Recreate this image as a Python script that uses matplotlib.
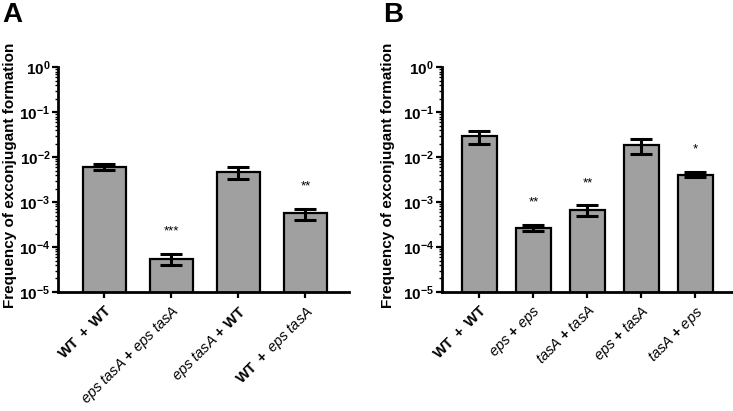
import numpy as np
import matplotlib.pyplot as plt
from matplotlib.ticker import LogLocator, FixedLocator, FuncFormatter

plt.rcParams['font.family'] = ['Liberation Sans', 'DejaVu Sans']
plt.rcParams['mathtext.fontset'] = 'custom'
plt.rcParams['mathtext.rm'] = 'Liberation Sans'
plt.rcParams['mathtext.it'] = 'Liberation Sans:italic'
plt.rcParams['mathtext.bf'] = 'Liberation Sans:bold'

# panel A
labels_a = [r'$\mathbf{WT\ +\ WT}$',
            r'$\mathit{eps\ tasA}\ \mathbf{+}\ \mathit{eps\ tasA}$',
            r'$\mathit{eps\ tasA}\ \mathbf{+\ WT}$',
            r'$\mathbf{WT\ +}\ \mathit{eps\ tasA}$']
means_a = [6.0e-3, 5.5e-5, 4.6e-3, 5.6e-4]
errs_a = [0.9e-3, 1.5e-5, 1.3e-3, 1.6e-4]
stars_a = ['', '***', '', '**']

# panel B
labels_b = [r'$\mathbf{WT\ +\ WT}$',
            r'$\mathit{eps}\ \mathbf{+}\ \mathit{eps}$',
            r'$\mathit{tasA}\ \mathbf{+}\ \mathit{tasA}$',
            r'$\mathit{eps}\ \mathbf{+}\ \mathit{tasA}$',
            r'$\mathit{tasA}\ \mathbf{+}\ \mathit{eps}$']
means_b = [2.9e-2, 2.7e-4, 6.7e-4, 1.85e-2, 4.1e-3]
errs_b = [0.95e-2, 0.45e-4, 1.7e-4, 0.65e-2, 0.55e-3]
stars_b = ['', '**', '**', '', '*']


def sci(v, pos):
    e = int(round(np.log10(v)))
    return r'$\mathbf{10^{%d}}$' % e


def draw(ax, labels, means, errs, stars, xlim, labelx):
    x = np.arange(len(means))
    ax.bar(x, means, width=0.64, color='#a0a0a0', edgecolor='black',
           linewidth=1.6, zorder=2)
    ax.errorbar(x, means, yerr=errs, fmt='none', ecolor='black',
                elinewidth=2.2, capsize=8, capthick=2.2, zorder=3)
    for xi, m, e, s in zip(x, means, errs, stars):
        if s:
            ax.text(xi, (m + e) * 2.3, s, ha='center', va='bottom',
                    fontsize=9.5)
    ax.set_yscale('log')
    ax.set_ylim(1e-5, 1)
    ax.set_xlim(*xlim)
    ax.yaxis.set_major_locator(LogLocator(base=10, numticks=10))
    ax.yaxis.set_minor_locator(LogLocator(base=10, subs=np.arange(2, 10), numticks=20))
    ax.yaxis.set_major_formatter(FuncFormatter(sci))
    ax.yaxis.set_minor_formatter(FuncFormatter(lambda v, p: ''))
    ax.xaxis.set_major_locator(FixedLocator(x))
    ax.set_xticklabels(labels, rotation=45, ha='right', rotation_mode='anchor',
                       fontsize=10.5)
    ax.tick_params(axis='y', which='major', length=4, width=1.6, labelsize=11,
                   pad=1.5)
    ax.tick_params(axis='y', which='minor', length=2.5, width=1.0)
    ax.tick_params(axis='x', length=4, width=1.6, pad=4)
    for s in ['top', 'right']:
        ax.spines[s].set_visible(False)
    for s in ['left', 'bottom']:
        ax.spines[s].set_linewidth(2)
    ax.set_ylabel('Frequency of exconjugant formation', fontsize=11,
                  fontweight='bold')
    ax.yaxis.set_label_coords(labelx, 0.52)


fig = plt.figure(figsize=(7.33, 4.11), dpi=100)
ax1 = fig.add_axes([0.0791, 0.2895, 0.397, 0.547])
ax2 = fig.add_axes([0.6026, 0.2895, 0.396, 0.547])

draw(ax1, labels_a, means_a, errs_a, stars_a, (-0.69, 3.65), -0.14)
draw(ax2, labels_b, means_b, errs_b, stars_b, (-0.70, 4.68), -0.16)

fig.text(0.003, 0.995, 'A', fontsize=20, fontweight='bold', va='top')
fig.text(0.522, 0.995, 'B', fontsize=20, fontweight='bold', va='top')

fig.savefig('out.png', dpi=100)
